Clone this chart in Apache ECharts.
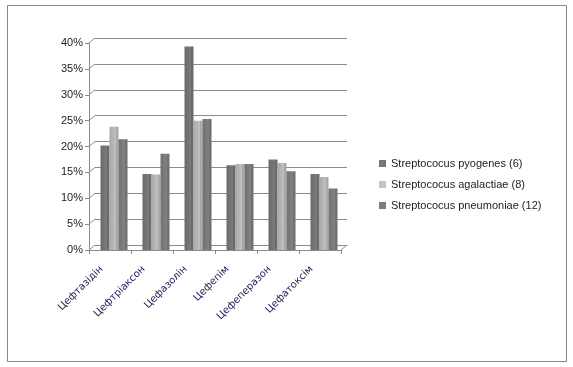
<!DOCTYPE html>
<html><head><meta charset="utf-8">
<script src="https://cdn.jsdelivr.net/npm/echarts@6/dist/echarts.min.js"></script>
<style>html,body{margin:0;padding:0;background:#fff}#c{width:573px;height:367px}</style>
</head><body><div id="c"></div>
<script>
var categories = ['Цефтазідін','Цефтріаксон','Цефазолін','Цефепім','Цефеперазон','Цефатоксім'];
var seriesNames = ['Streptococus pyogenes (6)','Streptococus agalactiae (8)','Streptococus pneumoniae (12)'];
var pyogenes   = [20.2, 14.7, 39.3, 16.4, 17.5, 14.7];
var agalactiae = [23.8, 14.6, 25.0, 16.6, 16.8, 14.1];
var pneumoniae = [21.4, 18.6, 25.3, 16.6, 15.2, 11.9];
var yTicks = [0,5,10,15,20,25,30,35,40];

var chart = echarts.init(document.getElementById('c'), null, {renderer:'canvas'});
function grad(a,b){return new echarts.graphic.LinearGradient(0,0,1,0,[{offset:0,color:a},{offset:0.75,color:b},{offset:0.76,color:a},{offset:1,color:a}]);}
var colors = ['#727272','#b6b6b6','#7a7a7a'];
var fills = [grad('#6a6a6a','#7c7c7c'), grad('#a8a8a8','#c2c2c2'), grad('#707070','#838383')];
var font = 'Liberation Sans';
chart.setOption({
  animation:false,
  color: colors,
  legend:{orient:'vertical',left:374,top:153,itemWidth:7,itemHeight:7,itemGap:10,icon:'rect',
    textStyle:{fontFamily:font,fontSize:11,color:'#222'},
    data:seriesNames.map(function(n,i){return {name:n,itemStyle:{color:['#767676','#c4c4c4','#7e7e7e'][i]}};})},
  grid:[
    {left:95,top:38,width:252,height:207,containLabel:false},
    {left:89,top:43,width:252,height:207,containLabel:false},
    {left:93,top:43,width:252,height:207,containLabel:false}
  ],
  xAxis:[
    {gridIndex:0,type:'category',data:categories,show:true,axisLine:{show:true,lineStyle:{color:'#8a8a8a'}},axisTick:{show:false},axisLabel:{show:false}},
    {gridIndex:1,type:'category',data:categories,axisLine:{lineStyle:{color:'#8a8a8a'}},
     axisTick:{show:true,length:4,lineStyle:{color:'#8a8a8a'}},
     axisLabel:{rotate:45,margin:9,padding:[0,12,0,0],fontFamily:'DejaVu Sans',fontSize:10,color:'#1c1c55',interval:0}},
    {gridIndex:2,type:'category',data:categories,show:false}
  ],
  yAxis:[
    {gridIndex:0,type:'value',min:0,max:40,interval:5,axisLine:{show:false},axisTick:{show:false},axisLabel:{show:false},
     splitLine:{show:true,lineStyle:{color:'#8a8a8a',width:1}}},
    {gridIndex:1,type:'value',min:0,max:40,interval:5,
     axisLine:{show:true,lineStyle:{color:'#8a8a8a'}},axisTick:{show:true,length:4,lineStyle:{color:'#8a8a8a'}},
     splitLine:{show:false},
     axisLabel:{formatter:'{value}%',fontFamily:font,fontSize:11,color:'#222',margin:6}},
    {gridIndex:2,type:'value',min:0,max:40,interval:5,show:false,splitLine:{show:false}}
  ],
  series:[pyogenes,agalactiae,pneumoniae].map(function(d,i){
    return {name:seriesNames[i],type:'bar',xAxisIndex:2,yAxisIndex:2,data:d,barWidth:9,barGap:'0%',
      itemStyle:{color:fills[i]}};
  })
});
// decorative 3D wall connectors and frame
var g = [{type:'rect',shape:{x:7.5,y:5.5,width:559,height:356},style:{fill:'none',stroke:'#888',lineWidth:1}}];
yTicks.forEach(function(t){
  var p1 = chart.convertToPixel({yAxisIndex:1}, t);
  var p0 = chart.convertToPixel({yAxisIndex:0}, t);
  g.push({type:'line',shape:{x1:89,y1:p1,x2:95,y2:p0},style:{stroke:'#8a8a8a',lineWidth:1}});
});
var b1 = chart.convertToPixel({yAxisIndex:1}, 0), b0 = chart.convertToPixel({yAxisIndex:0}, 0);
g.push({type:'line',shape:{x1:341,y1:b1,x2:347,y2:b0},style:{stroke:'#8a8a8a',lineWidth:1}});
chart.setOption({graphic:g});
</script></body></html>
